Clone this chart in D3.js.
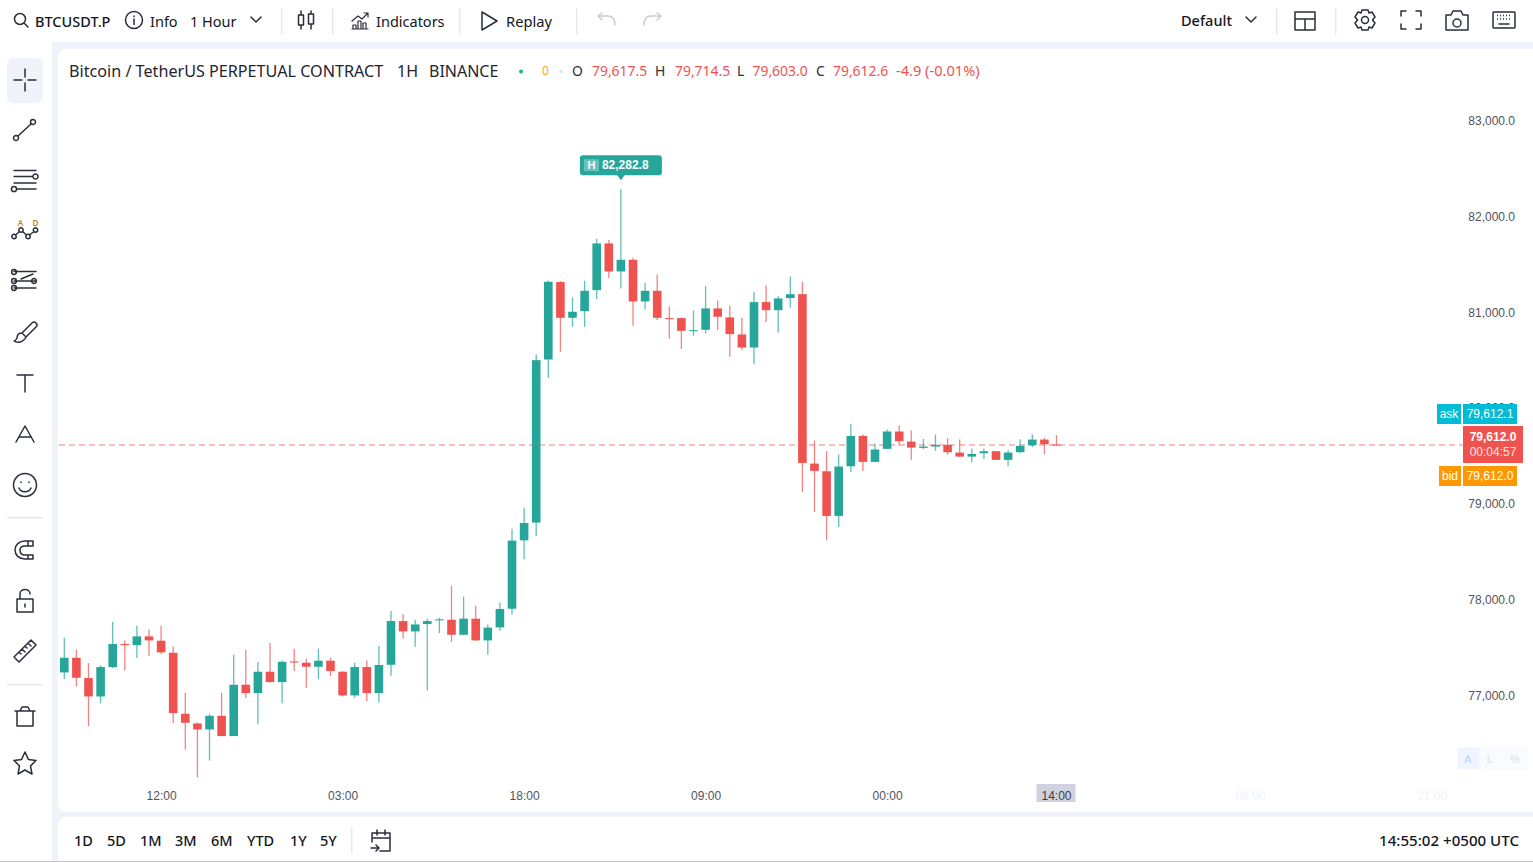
<!DOCTYPE html>
<html lang="en">
<head>
  <meta charset="UTF-8">
  <title>BTCUSDT.P 1H</title>
  <script src="https://d3js.org/d3.v7.min.js"></script>
  <style>
    html, body { margin: 0; padding: 0; background: #f0f3fa; overflow: hidden; }
    svg { display: block; }
    .ui { font-family: "Noto Sans", "Open Sans", sans-serif; fill: #131722; }
    .ax { font-family: "Liberation Sans", Arial, sans-serif; font-size: 12px; fill: #50535e; }
    .icon { fill: none; stroke: #2a2e39; stroke-width: 1.5; stroke-linecap: round; stroke-linejoin: round; }
    #candles { filter: blur(0.3px); }
  </style>
</head>
<body>
  <div id="chart"></div>

  <script>
    // hourly candles
    const opens = [77238,77391,77179,76987,77294,77534,77523,77614,77569,77443,
      76806,76705,76642,76785,76573,77109,77022,77245,77137,77353,
      77339,77297,77360,77245,76998,77294,77022,77318,77774,77666,
      77743,77781,77788,77631,77799,77572,77708,77903,78617,78802,
      80505,81313,80940,81010,81229,81717,81424,81546,81111,81222,
      80937,80937,80801,80815,81038,80944,80766,80630,81104,81020,
      81146,81187,79418,79338,78872,79390,79707,79436,79572,79753,
      79648,79582,79596,79613,79533,79491,79526,79547,79457,79537,
      79610,79669,79617.5];
    const highs = [77600,77475,77335,77314,77764,77572,77725,77684,77725,77509,
      77025,76715,76806,77025,77422,77475,77349,77544,77363,77485,
      77381,77485,77391,77250,77339,77363,77513,77879,77844,77788,
      77799,77809,78143,78029,77934,77739,77969,78739,78958,80557,
      81330,81323,81153,81327,81766,81752,82282.8,81567,81306,81396,
      81062,80945,81017,81271,81121,81066,80937,81212,81278,81167,
      81372,81316,79659,79547,79512,79833,79721,79627,79774,79819,
      79763,79676,79721,79683,79669,79575,79575,79550,79558,79673,
      79721,79686,79714.5];
    const lows = [77168,77092,76677,76917,77283,77259,77388,77408,77429,76708,
      76433,76144,76318,76573,76573,76970,76698,77133,76917,77252,
      77074,77168,77200,76987,76970,76938,76925,77203,77593,77503,
      77050,77649,77555,77628,77569,77423,77673,77844,78419,78662,
      80313,80585,80846,80846,81135,81355,81247,80857,81027,80916,
      80721,80616,80752,80777,80811,80533,80602,80456,80895,80787,
      81045,79122,78913,78617,78757,79331,79342,79432,79570,79610,
      79457,79568,79551,79512,79488,79432,79467,79455,79394,79530,
      79592,79516,79603];
    const closes = [77391,77182,76987,77294,77534,77523,77614,77572,77447,76813,
      76712,76642,76785,76573,77109,77022,77245,77137,77349,77342,
      77297,77360,77252,76998,77294,77022,77315,77774,77666,77739,
      77774,77792,77631,77799,77572,77705,77900,78614,78798,80498,
      81316,80940,81003,81222,81717,81424,81546,81111,81222,80940,
      80926,80804,80811,81038,80951,80770,80630,81104,81020,81142,
      81187,79425,79342,78872,79387,79707,79436,79565,79753,79652,
      79585,79596,79613,79537,79491,79519,79547,79457,79533,79603,
      79669,79620,79612.6];

    const priceTicks = [83000,82000,81000,80000,79000,78000,77000];
    const timeTickBars = [8,23,38,53,68,98,113];
    const timeTickLabels = ["12:00","03:00","18:00","09:00","00:00","06:00","21:00"];
    const crossBar = 82, crossLabel = "14:00";
    const lastPrice = 79612.0, askPrice = 79612.1, bidPrice = 79612.0, highPrice = 82282.8;

    const GREEN = "#26a69a", RED = "#ef5350";
    const W = 1533, H = 862;

    const svg = d3.select("#chart").append("svg").attr("width", W).attr("height", H);

    // panels
    const panel = (x, y, w, h, r) => svg.append("rect").attr("x", x).attr("y", y).attr("width", w).attr("height", h).attr("rx", r || 0).attr("fill", "#fff");
    panel(0, 0, W, 42);
    panel(0, 0, 52, H);
    panel(58, 49, W, 763, 8);
    panel(58, 817, W, H, 8);
    svg.append("rect").attr("x", 0).attr("y", 861).attr("width", W).attr("height", 1).attr("fill", "#c4c4c4");

    // scales
    const x = d3.scaleLinear().domain([0, 113]).range([64.3, 1431.6]);
    const y = d3.scaleLinear().domain([77000, 83000]).range([695.2, 120.5]);
    const bodyW = 8.6;

    // price axis
    const yAxis = svg.append("g").attr("transform", "translate(1515,0.3)")
      .call(d3.axisLeft(y).tickValues(priceTicks).tickFormat(d3.format(",.1f")).tickSize(0).tickPadding(0));
    yAxis.select(".domain").remove();
    yAxis.selectAll("text").attr("class", "ax").style("font-size", "12px").style("font-family", "'Liberation Sans', Arial, sans-serif").style("fill", "#50535e");

    // time axis
    const xAxis = svg.append("g").attr("transform", "translate(0,786)")
      .call(d3.axisBottom(x).tickValues(timeTickBars).tickFormat((d, i) => timeTickLabels[i]).tickSize(0).tickPadding(5));
    xAxis.select(".domain").remove();
    xAxis.selectAll("text").style("font-size", "12px").style("font-family", "'Liberation Sans', Arial, sans-serif")
      .style("fill", d => d > crossBar ? "#f0f3fa" : "#50535e");

    svg.append("rect").attr("x", x(crossBar) - 20).attr("y", 784).attr("width", 39).attr("height", 18).attr("fill", "#d1d2df");
    svg.append("text").attr("class", "ax").attr("x", x(crossBar)).attr("y", 800).attr("text-anchor", "middle").style("fill", "#3c3f4a").text(crossLabel);

    // last price line
    svg.append("line").attr("x1", 59).attr("x2", 1463).attr("y1", y(lastPrice)).attr("y2", y(lastPrice))
      .attr("stroke", RED).attr("stroke-opacity", 0.75).attr("stroke-width", 1.2).attr("stroke-dasharray", "6 4");

    // candles
    const candles = svg.append("g").attr("id", "candles");
    const bars = opens.map((o, i) => ({ i, o, h: highs[i], l: lows[i], c: closes[i] }));
    const col = d => d.c >= d.o ? GREEN : RED;

    candles.selectAll(".wick").data(bars).enter().append("line")
      .attr("class", "wick")
      .attr("x1", d => x(d.i)).attr("x2", d => x(d.i))
      .attr("y1", d => y(d.h)).attr("y2", d => y(d.l))
      .attr("stroke", col).attr("stroke-width", 1.3).attr("stroke-opacity", 0.72);

    candles.selectAll(".body").data(bars).enter().append("rect")
      .attr("class", "body")
      .attr("x", d => x(d.i) - bodyW / 2).attr("width", bodyW)
      .attr("y", d => y(Math.max(d.o, d.c)))
      .attr("height", d => Math.max(1, Math.abs(y(d.o) - y(d.c))))
      .attr("fill", col);

    // high marker
    const hiIdx = highs.indexOf(highPrice);
    const hx = x(hiIdx), hy = y(highPrice);
    const hi = svg.append("g");
    hi.append("rect").attr("x", hx - 41).attr("y", hy - 34).attr("width", 82).attr("height", 20).attr("rx", 3).attr("fill", GREEN);
    hi.append("path").attr("d", `M${hx - 4},${hy - 14.5}L${hx},${hy - 9}L${hx + 4},${hy - 14.5}Z`).attr("fill", GREEN);
    hi.append("rect").attr("x", hx - 37).attr("y", hy - 30).attr("width", 15).attr("height", 12).attr("fill", "#fff").attr("opacity", 0.3);
    hi.append("text").attr("x", hx - 29.5).attr("y", hy - 20).attr("text-anchor", "middle").attr("fill", "#fff")
      .style("font", "bold 11px 'Liberation Sans', Arial, sans-serif").text("H");
    hi.append("text").attr("x", hx - 19).attr("y", hy - 20).attr("fill", "#fff")
      .style("font", "bold 12px 'Liberation Sans', Arial, sans-serif").text(d3.format(",.1f")(highPrice));

    // price badges
    const badge = (bx, by, w, h, fill) => svg.append("rect").attr("x", bx).attr("y", by).attr("width", w).attr("height", h).attr("fill", fill);
    const badgeText = (tx, ty, t, o) => svg.append("text").attr("x", tx).attr("y", ty).attr("text-anchor", "middle").attr("fill", (o && o.fill) || "#fff")
      .style("font", `${(o && o.bold) ? "bold " : ""}12px 'Liberation Sans', Arial, sans-serif`).text(t);
    const fmt = d3.format(",.1f");
    badge(1437, 404, 24, 20, "#00bcd4"); badge(1463, 404, 54, 20, "#00bcd4");
    badgeText(1449, 418, "ask"); badgeText(1490, 418, fmt(askPrice));
    badge(1463, 426, 60, 37, RED);
    badgeText(1493, 441, fmt(lastPrice), { bold: true }); badgeText(1493, 456, "00:04:57", { fill: "#fde3e2" });
    badge(1439, 466, 22, 20, "#ff9800"); badge(1463, 466, 54, 20, "#ff9800");
    badgeText(1450, 480, "bid"); badgeText(1490, 480, fmt(bidPrice));

    // A L % box
    svg.append("rect").attr("x", 1457).attr("y", 747).attr("width", 72).attr("height", 23).attr("rx", 4).attr("fill", "#fafbfe");
    svg.append("rect").attr("x", 1457).attr("y", 748).attr("width", 22).attr("height", 21).attr("rx", 2).attr("fill", "#f0f4fe");
    [["A", 1468, "#c9d8fb"], ["L", 1490, "#e3e5ec"], ["%", 1515, "#e3e5ec"]].forEach(a =>
      svg.append("text").attr("x", a[1]).attr("y", 763).attr("text-anchor", "middle").attr("fill", a[2])
        .style("font", "bold 11px 'Liberation Sans', Arial, sans-serif").text(a[0]));

    // text helper for toolbar and legend
    const label = (tx, ty, t, size, fill, weight, anchor) => svg.append("text").attr("class", "ui")
      .attr("x", tx).attr("y", ty).attr("text-anchor", anchor || "start")
      .style("font-size", size + "px").style("fill", fill || "#131722").style("font-weight", weight || 400).text(t);

    // legend row
    label(69, 76.5, "Bitcoin / TetherUS PERPETUAL CONTRACT", 16.17, "#1f2430");
    label(397, 76.5, "1H", 16, "#1f2430");
    label(429, 76.5, "BINANCE", 16, "#1f2430");
    svg.append("circle").attr("cx", 521).attr("cy", 71.5).attr("r", 2).attr("fill", "#11b886");
    label(542, 75, "0", 12, "#f5a623");
    svg.append("circle").attr("cx", 561).attr("cy", 71.5).attr("r", 1.8).attr("fill", "#e0e3eb");
    [["O", 572, null], ["79,617.5", 592, RED], ["H", 655, null], ["79,714.5", 675, RED], ["L", 737, null], ["79,603.0", 752.5, RED],
     ["C", 816, null], ["79,612.6", 833, RED]].forEach(a => label(a[1], 76, a[0], 13.9, a[2] || "#2a2e39"));
    label(896, 76, "-4.9 (-0.01%)", 14.6, RED);

    // top toolbar
    label(35, 26.5, "BTCUSDT.P", 14.5, "#131722", 500);
    label(150, 26.5, "Info", 14.5);
    label(190, 26.5, "1 Hour", 14.5);
    label(376, 26.5, "Indicators", 14.5);
    label(506, 26.5, "Replay", 14.7);
    label(1181, 26, "Default", 14.5, "#131722", 500);
    [281, 332, 459, 576, 1276, 1335].forEach(sx => svg.append("rect").attr("x", sx).attr("y", 8).attr("width", 1.5).attr("height", 27).attr("fill", "#e6e9f0"));

    // bottom toolbar
    [["1D", 74], ["5D", 107], ["1M", 140], ["3M", 175], ["6M", 211], ["YTD", 247], ["1Y", 290], ["5Y", 320]]
      .forEach(a => label(a[1], 846, a[0], 14.5, "#131722", 500));
    svg.append("rect").attr("x", 351).attr("y", 827).attr("width", 1.5).attr("height", 27).attr("fill", "#e6e9f0");
    label(1519, 846, "14:55:02 +0500 UTC", 15.1, "#131722", 500, "end");

    // icons, drawn around their centre
    const icon = (cx, cy, d, stroke) => svg.append("path").attr("class", "icon").attr("transform", `translate(${cx},${cy})`).attr("d", d)
      .style("stroke", stroke || null);
    const circ = (cx, cy, r) => `M${cx - r},${cy}a${r},${r} 0 1,0 ${2 * r},0a${r},${r} 0 1,0 ${-2 * r},0`;

    // top icons
    icon(21, 20, circ(-1, -1, 5.5) + "M3,3L7,7");
    icon(134, 20, circ(0, 0, 8.5) + "M0,-1V4.5M0,-4V-3.6");
    icon(256, 19.5, "M-5,-2.5L0,2.5L5,-2.5");
    icon(306, 20, "M-5,-9V-5M-5,5V9M5,-9V-6M5,4V9M-7.5,-5h5v10h-5zM2.5,-6h5v10h-5z");
    icon(360, 21, "M-8,8H8M-7,8V4h3v4M-2,8V0h3v8M3,8V2h3v6M-8,0L-2,-5L2,-2L8,-8M4,-8h4v4", "#2a2e39").style("stroke-width", 1.2);
    icon(489, 21, "M-7,-9L8,0L-7,9Z");
    icon(606, 21, "M-8,-5L-4,-8M-8,-5L-4,-1M-8,-5H2C6,-5 9,-2 9,4", "#c8ccd6");
    icon(653, 21, "M8,-5L4,-8M8,-5L4,-1M8,-5H-2C-6,-5 -9,-2 -9,4", "#c8ccd6");
    icon(1251, 19.5, "M-5,-2.5L0,2.5L5,-2.5");
    icon(1305, 21, "M-10,-9h20v18h-20zM-10,-2h20M0,-2V9");
    icon(1365, 20, circ(0, 0, 3.5) + "M-3,-10h6l1,3l3,-1l3,5l-2.5,3l2.5,3l-3,5l-3,-1l-1,3h-6l-1,-3l-3,1l-3,-5l2.5,-3l-2.5,-3l3,-5l3,1z");
    icon(1411, 20, "M-10,-4V-9h5M5,-9h5V-4M10,4V9h-5M-5,9h-5V4");
    icon(1457, 21, "M-11,-6h5l2,-4h8l2,4h5v15h-22z" + circ(0, 2, 4));
    icon(1504, 20, "M-10,-8h20a1,1 0 0 1 1,1v14a1,1 0 0 1 -1,1h-20a1,1 0 0 1 -1,-1v-14a1,1 0 0 1 1,-1zM-5,4H5");
    icon(1504, 20, "M-7,-4.5H7M-7,-1H7").style("stroke-dasharray", "1 2").style("stroke-linecap", "butt");

    // left sidebar
    svg.append("rect").attr("x", 7).attr("y", 58).attr("width", 36).attr("height", 45).attr("rx", 6).attr("fill", "#f0f3fa");
    icon(25, 80, "M-11,0H-3M3,0H11M0,-11V-3M0,3V11");
    icon(25, 130, circ(-9, 8, 2.5) + circ(8, -8, 2.5) + "M-7,6L6,-6");
    icon(25, 180, "M-11,-9.5H11M-11,-3.5H8M-11,3H11M-8,9H11" + circ(10.5, -3.5, 2.6) + circ(-11, 9, 2.6));
    icon(25, 230, circ(-11, 6.5, 2.2) + circ(-4, 0, 2.2) + circ(3, 6.5, 2.2) + circ(10.5, 0, 2.2) + "M-9.5,5L-5.5,1.5M-2.5,1.5L1.5,5M4.5,5L9,1.5");
    label(20.5, 226, "A", 8, "#c77d1e", 600, "middle");
    label(35.5, 226, "D", 8, "#c77d1e", 600, "middle");
    icon(25, 281, "M-11,-9.5H11M-11,0H11M-11,7H11M8,-7L-4,-2" + circ(-11, -9, 2.4) + circ(-11, 0, 2.4) + circ(-11, 7, 2.4) + circ(9, 0, 2.4));
    icon(25, 332, "M-3,1L7,-9a2.5,2.5 0 0 1 4,4L1,5M-3,1C-7,1 -8,4 -8,6C-9,8 -10,9 -11,9C-8,11 -2,11 1,5Z");
    icon(25, 383, "M-8,-8H8M0,-8V9");
    icon(25, 434, "M-9,8L0,-8L9,8M-6,3H6");
    icon(25, 485, circ(0, 0, 11.5) + "M-6,3C-4,8 4,8 6,3M-4,-3v.5M4,-3v.5");
    svg.append("rect").attr("x", 7).attr("y", 517).attr("width", 36).attr("height", 1.5).attr("fill", "#e6e9f0");
    icon(25, 550, "M8,-9H0C-6,-9 -10,-5 -10,0C-10,5 -6,9 0,9H8V5H0C-3,5 -5,3 -5,0C-5,-3 -3,-4 0,-4H8ZM3,-9V-4M3,5V9");
    icon(25, 601, "M-8,-2h16v13h-16zM-5,-2V-7C-5,-13 5,-13 5,-7M0,3V6");
    icon(25, 651, "M-11,6L6,-11L11,-6L-6,11ZM-6,1l2,2M-3,-2l3,3M0,-5l2,2M3,-8l3,3");
    svg.append("rect").attr("x", 7).attr("y", 684).attr("width", 36).attr("height", 1.5).attr("fill", "#e6e9f0");
    icon(25, 716, "M-8,-5V10H8V-5M-10,-5H10M-5,-5L-3,-9H3L5,-5");
    icon(25, 763, "M0,-11L3.4,-3.6L11,-2.6L5.5,3L7,11L0,7L-7,11L-5.5,3L-11,-2.6L-3.4,-3.6Z");

    // calendar in the bottom bar
    icon(381, 841, "M-9,1V-8H9V10H-1M-9,-3H9M-4,-11V-6M4,-11V-6M-10,7H-3M-5,4L-2,7L-5,10");
  </script>
</body>
</html>
